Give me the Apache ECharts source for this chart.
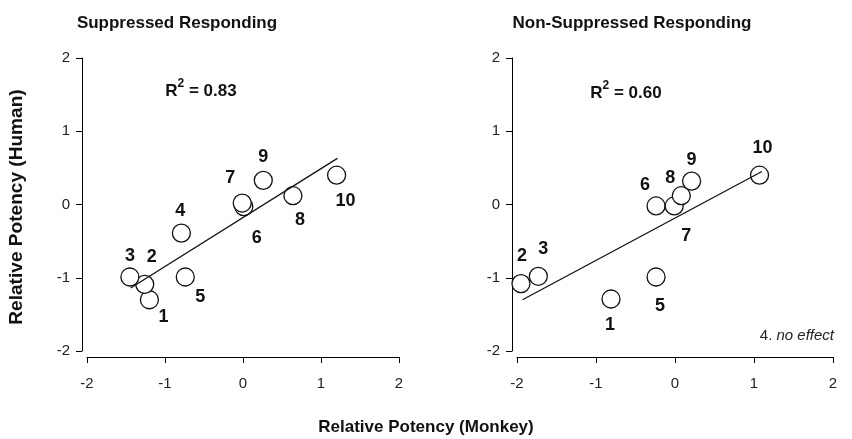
<!DOCTYPE html>
<html>
<head>
<meta charset="utf-8">
<script src="https://cdn.jsdelivr.net/npm/echarts@6/dist/echarts.min.js"></script>
<style>
html,body{margin:0;padding:0;background:#fff;}
#chart{width:852px;height:439px;}
</style>
</head>
<body>
<div id="chart"></div>
<script>
// ---- data ----
var compoundIds = ['1','2','3','4','5','6','7','8','9','10'];
// Suppressed responding: monkey (x) vs human (y)
var suppressedX = [-1.20, -1.26, -1.45, -0.79, -0.74, 0.01, -0.01, 0.64, 0.26, 1.20];
var suppressedY = [-1.30, -1.09, -0.99, -0.39, -0.99, -0.03, 0.02, 0.12, 0.33, 0.40];
var suppressedFitX = [-1.44, 1.21];
var suppressedFitY = [-1.14, 0.63];
var suppressedR2 = '0.83';
// Non-suppressed responding (compound 4: no effect)
var nonSuppIds = ['1','2','3','5','6','7','8','9','10'];
var nonSuppX = [-0.81, -1.95, -1.73, -0.24, -0.24, -0.01, 0.08, 0.21, 1.07];
var nonSuppY = [-1.29, -1.08, -0.98, -0.99, -0.02, -0.02, 0.12, 0.32, 0.40];
var nonSuppFitX = [-1.93, 1.10];
var nonSuppFitY = [-1.30, 0.45];
var nonSuppR2 = '0.60';
var axisTicks = [-2, -1, 0, 1, 2];

// label offsets in px (styling)
var suppLabelOffsets = [[14,17],[7,-27],[0,-21],[-1,-22],[15,20],[13,31],[-12,-25],[7,24],[0,-23],[9,26]];
var nonSuppLabelOffsets = [[-1,26],[1,-28],[5,-27],[4,29],[-11,-21],[12,30],[-11,-18],[0,-21],[3,-27]];

var FONT = 'Liberation Sans, Arial, sans-serif';

function pts(xs, ys, ids, offs) {
  return xs.map(function (x, i) {
    return { value: [x, ys[i]], name: ids[i], label: { offset: offs[i] } };
  });
}

function axisX(gi) {
  return {
    gridIndex: gi, type: 'value', min: axisTicks[0], max: axisTicks[axisTicks.length - 1], interval: 1,
    offset: 6,
    axisLine: { onZero: false, lineStyle: { color: '#000', width: 1 } },
    axisTick: { show: true, inside: false, length: 6, lineStyle: { color: '#000' } },
    axisLabel: { color: '#222', fontSize: 15, fontFamily: FONT, margin: 19 },
    splitLine: { show: false }
  };
}
function axisY(gi) {
  return {
    gridIndex: gi, type: 'value', min: axisTicks[0], max: axisTicks[axisTicks.length - 1], interval: 1,
    offset: 5,
    axisLine: { onZero: false, lineStyle: { color: '#000', width: 1 } },
    axisTick: { show: true, inside: false, length: 6, lineStyle: { color: '#000' } },
    axisLabel: { color: '#222', fontSize: 15, fontFamily: FONT, margin: 12 },
    splitLine: { show: false }
  };
}

function scatter(gi, data) {
  return {
    type: 'scatter', xAxisIndex: gi, yAxisIndex: gi, data: data,
    symbol: 'circle', symbolSize: 18,
    itemStyle: { color: '#fff', borderColor: '#111', borderWidth: 1.3, opacity: 1 },
    label: {
      show: true, position: 'inside', formatter: '{b}',
      color: '#111', fontSize: 18, fontWeight: 'bold', fontFamily: FONT
    },
    z: 2, silent: true
  };
}
function fit(gi, xs, ys) {
  return {
    type: 'line', xAxisIndex: gi, yAxisIndex: gi,
    data: xs.map(function (x, i) { return [x, ys[i]]; }),
    symbol: 'none', lineStyle: { color: '#111', width: 1.3 }, z: 3, silent: true
  };
}

function r2Text(v) { return '{a|R}{s|2}{a| = ' + v + '}'; }
var r2Rich = {
  a: { fontSize: 17, fontWeight: 'bold', fontFamily: FONT, fill: '#111', verticalAlign: 'bottom', lineHeight: 22 },
  s: { fontSize: 12, fontWeight: 'bold', fontFamily: FONT, fill: '#111', verticalAlign: 'top', lineHeight: 22 }
};

var chart = echarts.init(document.getElementById('chart'), null, { renderer: 'canvas' });
chart.setOption({
  backgroundColor: '#fff',
  animation: false,
  grid: [
    { left: 87, top: 58, width: 312, height: 293 },
    { left: 517, top: 58, width: 316, height: 293 }
  ],
  xAxis: [axisX(0), axisX(1)],
  yAxis: [axisY(0), axisY(1)],
  series: [
    scatter(0, pts(suppressedX, suppressedY, compoundIds, suppLabelOffsets)),
    fit(0, suppressedFitX, suppressedFitY),
    scatter(1, pts(nonSuppX, nonSuppY, nonSuppIds, nonSuppLabelOffsets)),
    fit(1, nonSuppFitX, nonSuppFitY)
  ],
  graphic: [
    { type: 'text', x: 177, y: 23, style: { text: 'Suppressed Responding', font: 'bold 17px ' + FONT, fill: '#111', textAlign: 'center', textVerticalAlign: 'middle' } },
    { type: 'text', x: 632, y: 23, style: { text: 'Non-Suppressed Responding', font: 'bold 17px ' + FONT, fill: '#111', textAlign: 'center', textVerticalAlign: 'middle' } },
    { type: 'text', x: 201, y: 89, style: { text: r2Text(suppressedR2), rich: r2Rich, textAlign: 'center', textVerticalAlign: 'middle' } },
    { type: 'text', x: 626, y: 91, style: { text: r2Text(nonSuppR2), rich: r2Rich, textAlign: 'center', textVerticalAlign: 'middle' } },
    { type: 'text', x: 17, y: 207, rotation: Math.PI / 2, scaleX: 1.06, style: { text: 'Relative Potency (Human)', font: 'bold 18px ' + FONT, fill: '#111', textAlign: 'center', textVerticalAlign: 'middle' } },
    { type: 'text', x: 426, y: 427, style: { text: 'Relative Potency (Monkey)', font: 'bold 17px ' + FONT, fill: '#111', textAlign: 'center', textVerticalAlign: 'middle' } },
    { type: 'text', x: 834, y: 336, style: { text: '{n|4. }{i|no effect}', rich: { n: { fontSize: 15, fontFamily: FONT, fill: '#222' }, i: { fontSize: 15, fontStyle: 'italic', fontFamily: FONT, fill: '#222' } }, textAlign: 'right', textVerticalAlign: 'middle' } }
  ]
});
</script>
</body>
</html>
